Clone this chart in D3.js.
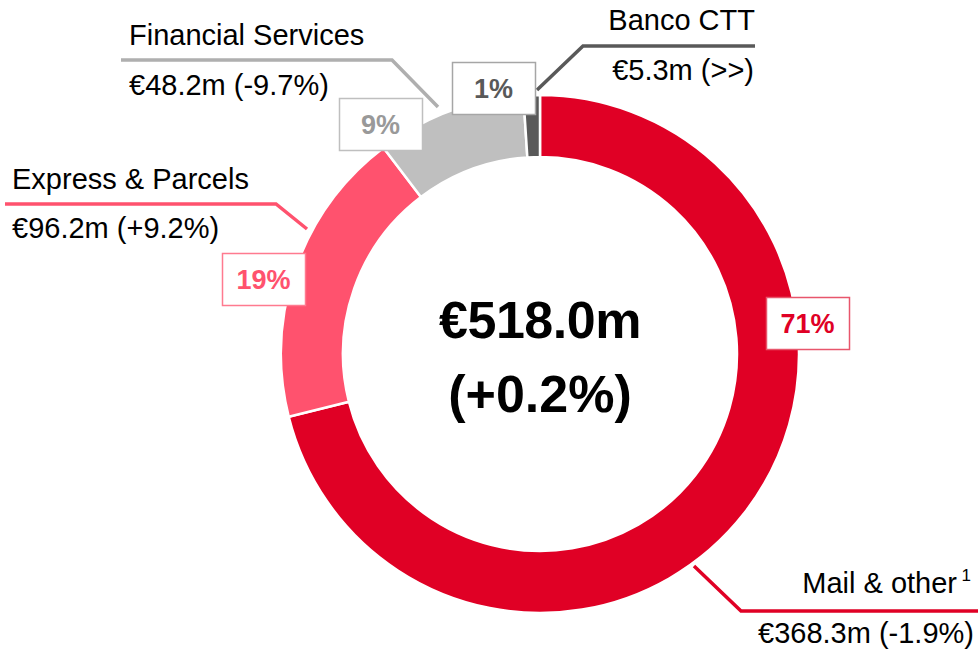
<!DOCTYPE html>
<html>
<head>
<meta charset="utf-8">
<script src="https://cdn.jsdelivr.net/npm/d3@7/dist/d3.min.js"></script>
<style>
  html, body { margin: 0; padding: 0; background: #fff; }
  svg { display: block; font-family: "Liberation Sans", Arial, sans-serif; }
</style>
</head>
<body>
<svg id="chart" width="978" height="650"></svg>
<script>
// ---- data ----
const categories = ["Mail & other", "Express & Parcels", "Financial Services", "Banco CTT"];
const values = [368.3, 96.2, 48.2, 5.3];
const shares = ["71%", "19%", "9%", "1%"];
const changes = ["€368.3m (-1.9%)", "€96.2m (+9.2%)", "€48.2m (-9.7%)", "€5.3m (>>)"];
const totalLabel = "€518.0m";
const totalChange = "(+0.2%)";

// ---- styles / layout ----
const colors = ["#E00025", "#FF526E", "#BFBFBF", "#595959"];
const shareText = ["#E00025", "#FF526E", "#999999", "#595959"];
const boxStroke = ["#E8566C", "#FF7A8F", "#BFBFBF", "#A6A6A6"];
const leaderColor = ["#E00025", "#FF526E", "#AFAFAF", "#595959"];

const svg = d3.select("#chart");
const cx = 540, cy = 354, R = 259, r = 197;

const pie = d3.pie().sort(null).value(d => d)(values);
const arc = d3.arc().innerRadius(r).outerRadius(R);

const g = svg.append("g").attr("transform", `translate(${cx},${cy})`);
g.selectAll("path").data(pie).join("path")
  .attr("d", arc)
  .attr("fill", (d, i) => colors[i])
  .attr("stroke", "#fff")
  .attr("stroke-width", 2.5);

// center text
svg.append("text").attr("x", cx).attr("y", 338).attr("text-anchor", "middle")
  .attr("font-size", 52).attr("font-weight", "bold").attr("letter-spacing", -0.5).text(totalLabel);
svg.append("text").attr("x", cx).attr("y", 412).attr("text-anchor", "middle")
  .attr("font-size", 52).attr("font-weight", "bold").text(totalChange);

// leader lines (annotation layout)
const leaders = [
  [[694, 566], [741, 611], [978, 611]],
  [[307, 229], [276, 204], [5, 204]],
  [[438, 107], [392, 60], [121, 60]],
  [[537, 90], [583, 46], [755, 46]]
];
const line = d3.line();
leaders.forEach((pts, i) => {
  svg.append("path").attr("d", line(pts)).attr("fill", "none")
    .attr("stroke", leaderColor[i]).attr("stroke-width", 3.5);
});

// category labels
const labelPos = [
  { x: 957, y: 593, v: 974, vy: 643, anchor: "end" },
  { x: 12, y: 189, v: 12, vy: 238, anchor: "start" },
  { x: 129, y: 45, v: 129, vy: 95, anchor: "start" },
  { x: 755, y: 30, v: 754, vy: 80, anchor: "end" }
];
labelPos.forEach((p, i) => {
  svg.append("text").attr("x", p.x).attr("y", p.y).attr("text-anchor", p.anchor)
    .attr("font-size", 29).attr("fill", "#000").text(categories[i]);
  svg.append("text").attr("x", p.v).attr("y", p.vy).attr("text-anchor", p.anchor)
    .attr("font-size", 29).attr("fill", "#000").text(changes[i]);
});
// superscript for Mail & other
svg.append("text").attr("x", 971).attr("y", 581).attr("text-anchor", "end")
  .attr("font-size", 17).text("1");

// share boxes
const boxes = [
  { x: 766, y: 297 },
  { x: 222, y: 253 },
  { x: 339, y: 98 },
  { x: 452, y: 62 }
];
const bw = 83, bh = 52;
boxes.forEach((b, i) => {
  svg.append("rect").attr("x", b.x + 0.5).attr("y", b.y + 0.5).attr("width", bw).attr("height", bh)
    .attr("fill", "#fff").attr("stroke", boxStroke[i]).attr("stroke-width", 1.5);
  svg.append("text").attr("x", b.x + bw / 2).attr("y", b.y + 36).attr("text-anchor", "middle")
    .attr("font-size", 27).attr("font-weight", "bold").attr("fill", shareText[i]).text(shares[i]);
});
</script>
</body>
</html>
